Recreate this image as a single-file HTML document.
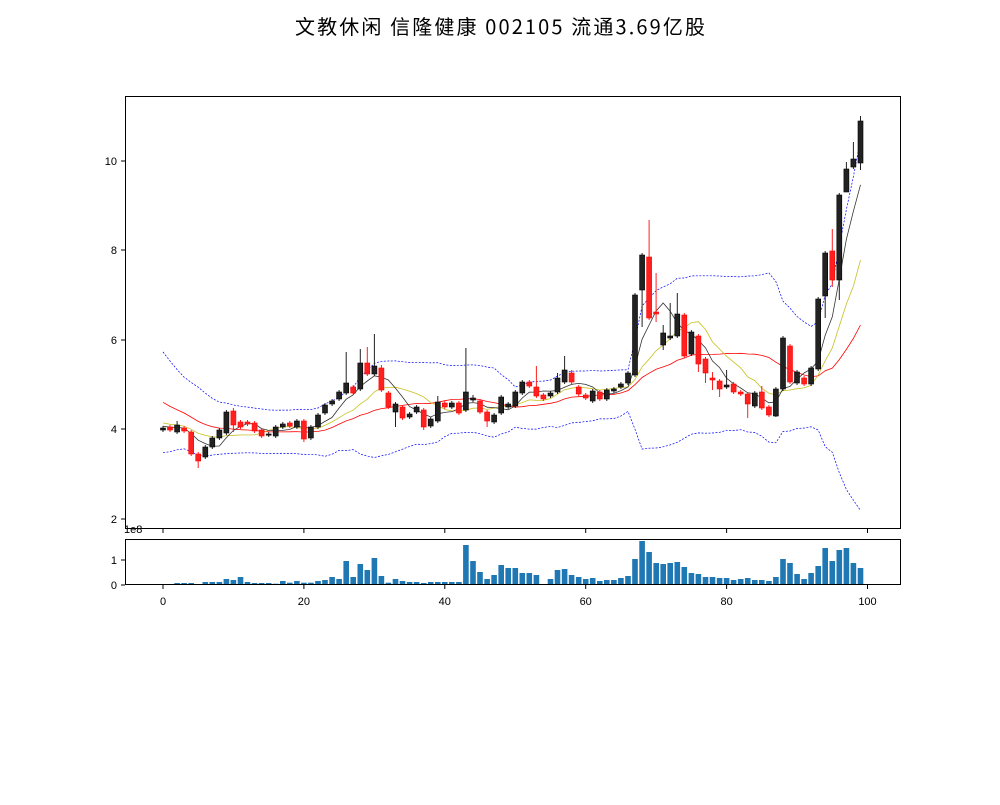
<!DOCTYPE html>
<html><head><meta charset="utf-8"><style>
body{margin:0;background:#fff;}
svg text{font-family:"Liberation Sans","Noto Sans CJK SC",sans-serif;}
</style></head><body>
<svg id="s" width="1000" height="800" xmlns="http://www.w3.org/2000/svg">
<rect width="1000" height="800" fill="#fff"/>
<text x="295" y="34" font-size="20" textLength="410" lengthAdjust="spacing" style="font-family:'WenQuanYi Zen Hei','Noto Sans CJK SC',sans-serif">文教休闲 信隆健康 002105 流通3.69亿股</text>
<g id="g"></g>
</svg>
<script>
var C=[[428,430,'k'],[427,430,'r'],[425,432,'k'],[428,431,'r'],[432,454,'r'],[454,461,'r'],[447,457,'k'],[438,447,'k'],[430,438,'k'],[412,433,'k'],
[411,425,'r'],[422,427,'r'],[422,424,'r'],[423,431,'r'],[430,436,'r'],[434,435,'k'],[427,436,'k'],[424,427,'k'],[423,426,'r'],[421,427,'k'],
[421,439,'r'],[427,438,'k'],[415,427,'k'],[405,413,'k'],[401,404,'k'],[392,399,'k'],[383,393,'k'],[387,393,'r'],[363,389,'k'],[363,374,'r'],
[366,374,'k'],[368,390,'r'],[393,407,'r'],[404,412,'k'],[407,418,'r'],[414,417,'k'],[407,412,'k'],[410,427,'r'],[419,426,'k'],[402,421,'k'],
[403,407,'r'],[403,407,'k'],[403,413,'r'],[392,410,'k'],[398,400,'k'],[401,412,'r'],[412,421,'r'],[415,422,'k'],[397,413,'k'],[404,407,'k'],
[392,406,'k'],[382,393,'k'],[382,386,'r'],[387,396,'r'],[395,399,'r'],[393,396,'k'],[378,392,'k'],[370,382,'k'],[373,382,'r'],[387,394,'r'],
[395,398,'r'],[391,401,'k'],[392,399,'r'],[390,399,'k'],[389,391,'k'],[384,387,'k'],[373,383,'k'],[295,375,'k'],[255,290,'k'],[257,318,'r'],
[312,314,'r'],[333,345,'k'],[336,338,'k'],[314,336,'k'],[315,356,'r'],[332,354,'k'],[336,364,'r'],[359,373,'r'],[378,380,'r'],[381,389,'r'],
[385,387,'k'],[384,392,'r'],[392,394,'r'],[394,404,'r'],[393,406,'k'],[392,408,'r'],[407,415,'r'],[389,416,'k'],[338,389,'k'],[346,382,'r'],
[372,383,'k'],[378,384,'r'],[368,384,'k'],[299,369,'k'],[253,296,'k'],[251,280,'r'],[195,280,'k'],[169,192,'k'],[159,167,'k'],[121,163,'k']];
var HI={2:421,4:430,10:408,26:352,28:349,29:347,30:334,31:365,39:396,43:348,44:395,53:366,56:373,57:356,58:370,69:220,70:273,71:325,72:303,73:293,78:372,80:370,85:386,95:229,97:162,98:142,99:116};
var LO={5:468,10:432,20:442,33:427,37:430,46:427,68:327,70:322,71:350,76:372,77:383,78:390,79:397,83:418,87:417,94:318,95:287,96:300,97:185,99:170};
var V=[162,162,159,159,159,162,156,156,156,147,150,141,156,159,159,159,161,153,158,153,158,158,153,150,141,147,93,141,102,120,84,138,158,147,153,156,156,159,156,156,156,156,156,45,93,126,147,135,105,114,114,
129,129,135,162,147,120,117,135,141,147,144,153,150,150,144,138,87,33,66,99,102,99,96,111,129,132,141,141,144,144,150,147,144,150,150,153,141,87,99,132,147,129,108,54,93,60,54,99,114];
function X(i){return 163+7.045*i;}
function P(p){return 429-(p-4)*44.6;}
var s='';
for(var i=0;i<100;i++){var t=530+V[i]/3;s+='<rect x="'+(X(i)-2.8).toFixed(1)+'" y="'+t.toFixed(1)+'" width="5.6" height="'+(585-t).toFixed(1)+'" fill="#1f77b4"/>';}
var prior=[5.8,5.6,5.4,5.3,5.2,5.0,4.8,4.6,4.5,4.4,4.3,4.25,4.2,4.15,4.15,4.1,4.1,4.05,4.05].map(P);
var cl=C.map(function(c){return c[2]=='k'?c[0]:c[1];});
var all=prior.concat(cl),off=prior.length;
function ma(n,i){var a=0;for(var k=0;k<n;k++)a+=all[off+i-k];return a/n;}
function sd(i){var m=ma(20,i),a=0;for(var k=0;k<20;k++){var d=all[off+i-k]-m;a+=d*d;}return Math.sqrt(a/20);}
function line(f,col,w,dash){var pts=[];for(var i=0;i<100;i++)pts.push(X(i).toFixed(1)+','+f(i).toFixed(1));return '<polyline points="'+pts.join(' ')+'" fill="none" stroke="'+col+'" stroke-width="'+w+'"'+(dash?' stroke-dasharray="'+dash+'"':'')+'/>';}
s+=line(function(i){return ma(20,i)-2*sd(i);},'blue',0.7,'2,1.5');
s+=line(function(i){return ma(20,i)+2*sd(i);},'blue',0.7,'2,1.5');
s+=line(function(i){return ma(20,i);},'red',0.8);
s+=line(function(i){return ma(10,i);},'#c8c020',0.8);
s+=line(function(i){return ma(5,i);},'#333',0.8);
for(var i=0;i<100;i++){var c=C[i],col=c[2]=='k'?'#222':'#ff2020',x=X(i);
var hi=HI[i]!==undefined?HI[i]:c[0]-2,lo=LO[i]!==undefined?LO[i]:c[1]+2;
s+='<line x1="'+x.toFixed(1)+'" x2="'+x.toFixed(1)+'" y1="'+hi+'" y2="'+lo+'" stroke="'+col+'" stroke-width="1"/>';
var h=Math.max(c[1]-c[0],1.2);
s+='<rect x="'+(x-2.5).toFixed(1)+'" y="'+c[0]+'" width="5" height="'+h+'" fill="'+col+'" stroke="'+(c[2]=='k'?'#000':'#ff0000')+'" stroke-width="0.6"/>';}
s+='<rect x="125.5" y="96.5" width="775" height="432" fill="none" stroke="#000" stroke-width="1"/>';
s+='<rect x="125.5" y="539.5" width="775" height="45" fill="none" stroke="#000" stroke-width="1"/>';
var yt=[[2,519],[4,429],[6,340],[8,250],[10,161]];
yt.forEach(function(t){s+='<line x1="121" x2="125" y1="'+t[1]+'" y2="'+t[1]+'" stroke="#000"/><text x="117" y="'+(t[1]+4)+'" font-size="11" text-anchor="end">'+t[0]+'</text>';});
[[0,585],[1,560]].forEach(function(t){s+='<line x1="121" x2="125" y1="'+t[1]+'" y2="'+t[1]+'" stroke="#000"/><text x="117" y="'+(t[1]+4)+'" font-size="11" text-anchor="end">'+t[0]+'</text>';});
s+='<text x="124" y="533" font-size="11">1e8</text>';
for(var k=0;k<=100;k+=20){var x=X(k).toFixed(1);
s+='<line x1="'+x+'" x2="'+x+'" y1="529" y2="533" stroke="#000"/>';
s+='<line x1="'+x+'" x2="'+x+'" y1="585" y2="589" stroke="#000"/><text x="'+x+'" y="605" font-size="11" text-anchor="middle">'+k+'</text>';}
document.getElementById('g').innerHTML=s;
</script>
</body></html>
